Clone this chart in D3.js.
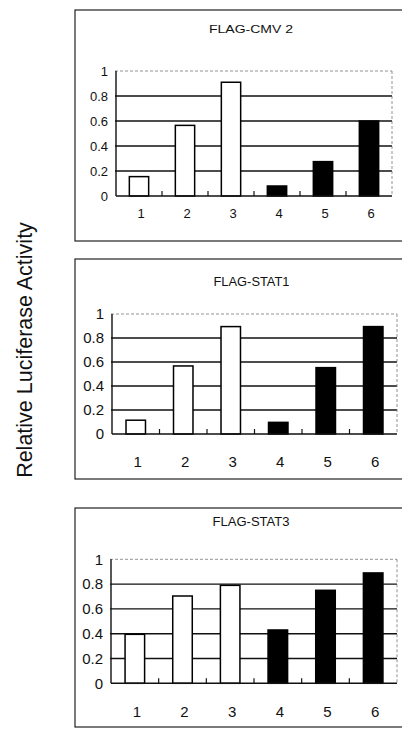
<!DOCTYPE html>
<html>
<head>
<meta charset="utf-8">
<script src="https://cdn.jsdelivr.net/npm/d3@7/dist/d3.min.js"></script>
<style>
  html, body { margin: 0; padding: 0; background: #fff; }
  svg { display: block; font-family: "Liberation Sans", Arial, Helvetica, sans-serif; }
</style>
</head>
<body>
<svg id="chart" width="402" height="730"></svg>
<script>
// Lanes 1-6; lanes 1-3 drawn as open bars, lanes 4-6 as filled bars
const lanes = ["1", "2", "3", "4", "5", "6"];
const filledLanes = ["4", "5", "6"];
const yTicks = [0, 0.2, 0.4, 0.6, 0.8, 1];
const yTickLabels = ["0", "0.2", "0.4", "0.6", "0.8", "1"];
const panelTitles = ["FLAG-CMV 2", "FLAG-STAT1", "FLAG-STAT3"];

// Relative luciferase activity per lane
const cmv2Values  = [0.155, 0.565, 0.91, 0.08, 0.275, 0.60];
const stat1Values = [0.115, 0.567, 0.895, 0.097, 0.553, 0.895];
const stat3Values = [0.395, 0.704, 0.79, 0.43, 0.75, 0.89];
const panelValues = [cmv2Values, stat1Values, stat3Values];

const yAxisTitle = "Relative Luciferase Activity";

// Panel geometry
const panels = [
  { box: [75, 10, 410, 241], plot: { left: 116, right: 392, top: 71, bottom: 196 },
    titleY: 29, titleSize: 11, titleLen: 84, tickSize: 13, xLabelY: 218, barFrac: 0.42 },
  { box: [75, 259, 410, 479], plot: { left: 112, right: 397, top: 314, bottom: 434 },
    titleY: 282, titleSize: 12.5, titleLen: 76, tickSize: 15, xLabelY: 467, barFrac: 0.41 },
  { box: [75, 508, 410, 727], plot: { left: 111, right: 397, top: 559.3, bottom: 683.3 },
    titleY: 522, titleSize: 12.5, titleLen: 77, tickSize: 15, xLabelY: 717, barFrac: 0.41 }
];

const svg = d3.select("#chart");

panels.forEach((p, i) => {
  const g = svg.append("g");
  const [bx0, by0, bx1, by1] = p.box;

  // Panel frame
  g.append("rect")
    .attr("x", bx0).attr("y", by0)
    .attr("width", bx1 - bx0).attr("height", by1 - by0)
    .attr("fill", "none").attr("stroke", "#222").attr("stroke-width", 1.2);

  // Panel title
  g.append("text")
    .attr("x", (p.plot.left + p.plot.right) / 2 - 3)
    .attr("y", p.titleY)
    .attr("dy", "0.35em")
    .attr("text-anchor", "middle")
    .attr("font-size", p.titleSize)
    .attr("textLength", p.titleLen)
    .attr("lengthAdjust", "spacingAndGlyphs")
    .attr("fill", "#111")
    .text(panelTitles[i]);

  const x = d3.scaleBand().domain(lanes).range([p.plot.left, p.plot.right]).padding(0);
  const y = d3.scaleLinear().domain([0, 1]).range([p.plot.bottom, p.plot.top]);

  // Horizontal gridlines (top one faint and dotted)
  g.selectAll("line.grid")
    .data(yTicks.filter(t => t > 0))
    .join("line")
    .attr("class", "grid")
    .attr("x1", p.plot.left - 1).attr("x2", p.plot.right)
    .attr("y1", d => y(d)).attr("y2", d => y(d))
    .attr("stroke", d => d === 1 ? "#777" : "#111")
    .attr("stroke-width", d => d === 1 ? 0.8 : 1.4)
    .attr("stroke-dasharray", d => d === 1 ? "3,2" : null);

  // Right edge of plot, faint dotted
  g.append("line")
    .attr("x1", p.plot.right).attr("x2", p.plot.right)
    .attr("y1", p.plot.top).attr("y2", p.plot.bottom)
    .attr("stroke", "#777").attr("stroke-width", 0.8).attr("stroke-dasharray", "3,2");

  // Bars
  const bw = x.bandwidth() * p.barFrac;
  g.selectAll("rect.bar")
    .data(lanes.map((l, k) => ({ lane: l, value: panelValues[i][k] })))
    .join("rect")
    .attr("class", "bar")
    .attr("x", d => x(d.lane) + (x.bandwidth() - bw) / 2)
    .attr("y", d => y(d.value))
    .attr("width", bw)
    .attr("height", d => y(0) - y(d.value))
    .attr("fill", d => filledLanes.includes(d.lane) ? "#000" : "#fff")
    .attr("stroke", "#000")
    .attr("stroke-width", 1.5);

  // Left axis line and baseline
  g.append("line")
    .attr("x1", p.plot.left).attr("x2", p.plot.left)
    .attr("y1", p.plot.top).attr("y2", p.plot.bottom)
    .attr("stroke", "#111").attr("stroke-width", 1.4);
  g.append("line")
    .attr("x1", p.plot.left).attr("x2", p.plot.right)
    .attr("y1", p.plot.bottom).attr("y2", p.plot.bottom)
    .attr("stroke", "#111").attr("stroke-width", 1.4);

  // Category separator ticks on the baseline, pointing up
  g.selectAll("line.sep")
    .data(lanes.slice(1))
    .join("line")
    .attr("class", "sep")
    .attr("x1", d => x(d)).attr("x2", d => x(d))
    .attr("y1", p.plot.bottom).attr("y2", p.plot.bottom - 5)
    .attr("stroke", "#111").attr("stroke-width", 1.2);

  // Y tick labels
  g.selectAll("text.ytick")
    .data(yTicks)
    .join("text")
    .attr("class", "ytick")
    .attr("x", p.plot.left - (i === 0 ? 8 : 8))
    .attr("y", d => y(d))
    .attr("dy", "0.35em")
    .attr("text-anchor", "end")
    .attr("font-size", p.tickSize)
    .attr("fill", "#111")
    .text((d, k) => yTickLabels[k]);

  // X category labels
  g.selectAll("text.xtick")
    .data(lanes)
    .join("text")
    .attr("class", "xtick")
    .attr("x", d => x(d) + x.bandwidth() / 2 + 2)
    .attr("y", p.xLabelY)
    .attr("text-anchor", "middle")
    .attr("font-size", p.tickSize)
    .attr("fill", "#111")
    .text(d => d);
});

// Shared y-axis title
svg.append("text")
  .attr("transform", "translate(32,350) rotate(-90)")
  .attr("text-anchor", "middle")
  .attr("font-size", 21.5)
  .attr("fill", "#111")
  .text(yAxisTitle);
</script>
</body>
</html>
